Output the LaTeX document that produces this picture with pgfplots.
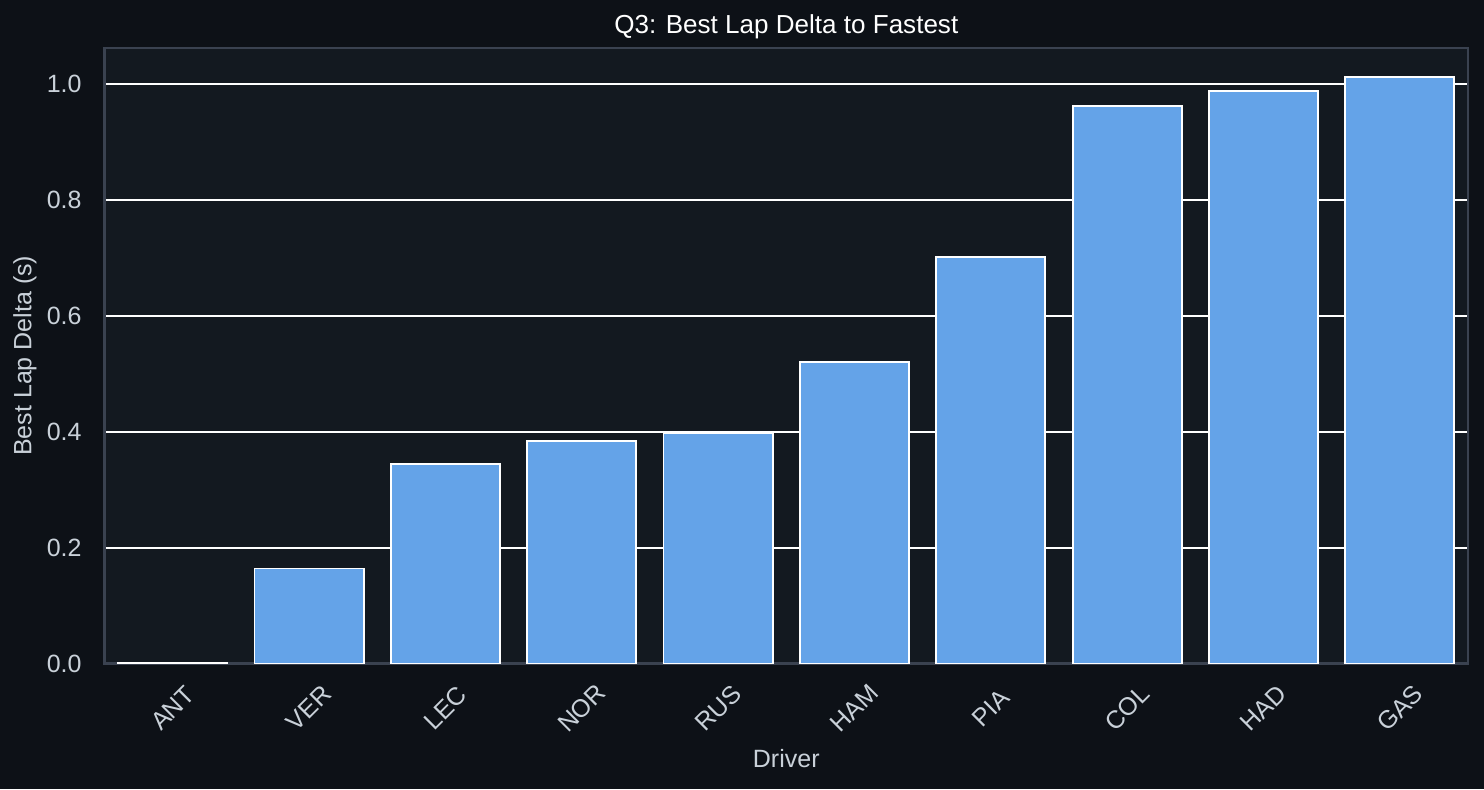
\documentclass[border=0pt]{standalone}
\usepackage{pgfplots}
\pgfplotsset{compat=1.18}
\usepackage{fontspec}
\setmainfont{Liberation Sans}

\definecolor{figbg}{HTML}{0D1117}
\definecolor{axbg}{HTML}{131920}
\definecolor{spine}{HTML}{3A4250}
\definecolor{barblue}{HTML}{64A3E8}
\definecolor{ticktext}{HTML}{C9D1D9}

\begin{document}
\begin{tikzpicture}

% figure background, gives the page its size
\fill[figbg] (-50.16pt,-60.24pt) rectangle (662.16pt,318.48pt);

\begin{axis}[%
at={(0pt,0pt)},
anchor=south west,
width=654.5pt,
height=295.44pt,
scale only axis,
axis background/.style={fill=axbg},
axis line style={spine,line width=1pt},
ybar,
bar width=0.8,
xmin=-0.5,
xmax=9.5,
ymin=0,
ymax=1.0626,
xtick={0,1,2,3,4,5,6,7,8,9},
xticklabels={ANT,VER,LEC,NOR,RUS,HAM,PIA,COL,HAD,GAS},
ytick={0,0.2,0.4,0.6,0.8,1.0},
/pgf/number format/fixed,
/pgf/number format/fixed zerofill,
/pgf/number format/precision=1,
/pgf/number format/assume math mode=true,
major tick length=0pt,
tick style={draw=none},
ymajorgrids,
grid style={white,line width=1pt},
yticklabel style={font=\fontsize{12}{14}\selectfont,color=ticktext,anchor=east,inner sep=0pt,xshift=-10.8pt},
xticklabel style={font=\fontsize{12}{14}\selectfont,color=ticktext,yshift=-21.4pt,rotate=45,anchor=center,inner sep=0pt},
every axis title shift=0pt,
title={Q3: Best Lap Delta to Fastest},
title style={at={(axis description cs:0.5,1)},anchor=base,yshift=7.2pt,font=\fontsize{12.5}{15}\selectfont,color=white},
xlabel={Driver},
xlabel style={at={(axis description cs:0.5,0)},anchor=base,yshift=-50pt,font=\fontsize{12}{14}\selectfont,color=ticktext},
ylabel={Best Lap Delta (s)},
ylabel style={at={(axis description cs:-0.0584,0.5)},anchor=center,font=\fontsize{12}{14}\selectfont,color=ticktext}
]

\addplot[fill=barblue,draw=white,line width=0.9pt]
coordinates {
(0,0.001)
(1,0.164)
(2,0.344)
(3,0.384)
(4,0.398)
(5,0.521)
(6,0.702)
(7,0.963)
(8,0.989)
(9,1.012)
};

\end{axis}

\end{tikzpicture}
\end{document}
